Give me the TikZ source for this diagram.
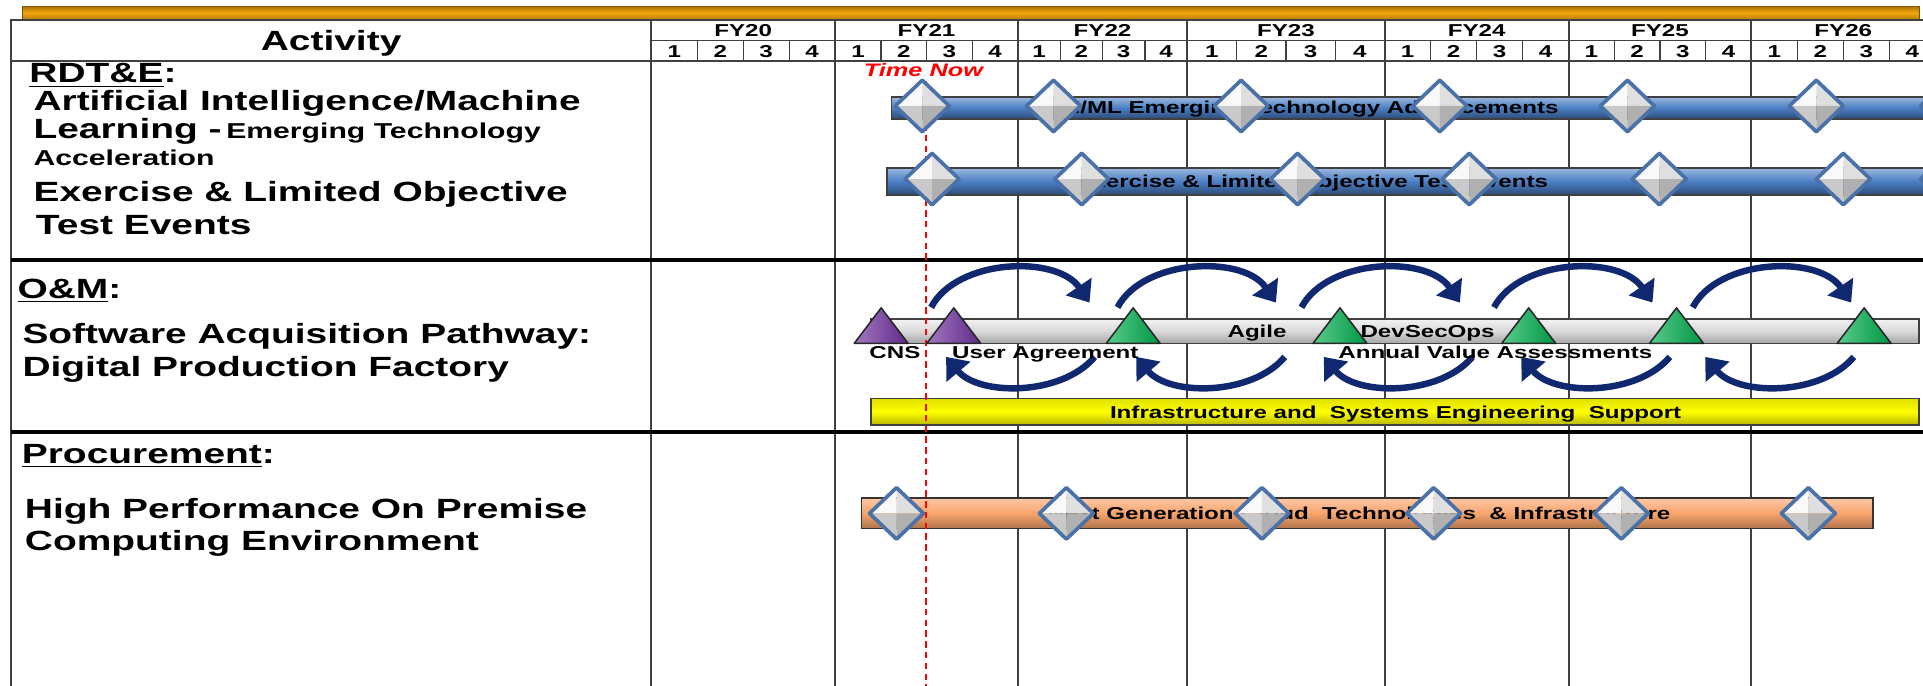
\documentclass[tikz,border=0pt]{standalone}
\usepackage{fontspec}
\setmainfont{Liberation Sans}[FakeStretch=1.4]
\usetikzlibrary{arrows.meta}

\definecolor{gridgray}{HTML}{404040}
\definecolor{gold}{HTML}{F2A60C}
\definecolor{barblue}{HTML}{4A7EC4}
\definecolor{gemblue}{HTML}{4A72A8}
\definecolor{loopnavy}{HTML}{0F2870}
\definecolor{trigreen}{HTML}{00B050}
\definecolor{tripurple}{HTML}{7030A0}
\definecolor{salmon}{HTML}{F8A46C}

% font sizes
\newcommand{\rowfont}{\fontsize{12.9}{15}\selectfont\bfseries}
\newcommand{\notefont}{\fontsize{10}{12}\selectfont\bfseries}
\newcommand{\gridfont}{\fontsize{8}{9.6}\selectfont\bfseries}

% silver milestone diamond
\newcommand{\gem}[2]{%
  \fill[white!95!gray] (#1,#2) -- (#1-22,#2) -- (#1,#2-21) -- cycle;
  \fill[gray!25] (#1,#2) -- (#1,#2-21) -- (#1+22,#2) -- cycle;
  \fill[gray!42] (#1,#2) -- (#1-22,#2) -- (#1,#2+21) -- cycle;
  \fill[gray!62] (#1,#2) -- (#1,#2+21) -- (#1+22,#2) -- cycle;
  \draw[gemblue, line width=1.7pt, line join=round]
    (#1-22,#2) -- (#1,#2-21) -- (#1+22,#2) -- (#1,#2+21) -- cycle;
}
% triangle milestone
\newcommand{\flag}[2]{%
  \shadedraw[left color=#2!65!white, right color=#2!85!black, draw=black!85,
    line width=0.7pt, line join=round]
    (#1,251) -- (#1+22,280) -- (#1-22,280) -- cycle;
}

\begin{document}
\begin{tikzpicture}[x=0.02cm, y=-0.02cm,
  gridline/.style={gridgray, line width=0.9pt},
  sectionline/.style={black, line width=1.9pt},
  bluebar/.style={draw=black!75, line width=0.8pt, top color=barblue!55!white,
    bottom color=barblue!60!black, middle color=barblue},
  silverbar/.style={draw=black!75, line width=0.8pt, top color=white!90!gray,
    bottom color=gray!70, middle color=gray!30},
  yellowbar/.style={draw=black!75, line width=0.8pt, top color=yellow!88!black,
    bottom color=yellow!72!black, middle color=yellow},
  salmonbar/.style={draw=black!80, line width=0.8pt, top color=salmon!60!white,
    bottom color=salmon!70!black, middle color=salmon},
  looparrow/.style={loopnavy, line width=3pt, -{Triangle[length=9pt,width=14pt]}},
  bartext/.style={font=\gridfont, anchor=base, inner sep=0pt},
  rowtext/.style={font=\rowfont, anchor=base west, inner sep=0pt},
]
\useasboundingbox (0,0) rectangle (1568,559);
\clip (0,0) rectangle (1568,559);

% Title bar
\shadedraw[top color=gold!70!black, bottom color=gold!75!black, middle color=gold,
  draw=gold!50!black, line width=0.5pt] (18,5) rectangle (1565,16);

% Frame and grid
\draw[gridline] (9,559) -- (9,16.5) -- (1570,16.5);
\draw[gridline] (9,49.7) -- (1570,49.7);
\draw[gridline] (531,33) -- (1570,33);
\foreach \x in {531,681,830,968,1129,1279,1428}
  \draw[gridline] (\x,16.5) -- (\x,559);

% Fiscal years and quarters
\foreach \a/\b/\fy [count=\i] in {531/681/FY20, 681/830/FY21, 830/968/FY22,
    968/1129/FY23, 1129/1279/FY24, 1279/1428/FY25, 1428/1578/FY26} {
  \node[bartext] (fy\i) at ({(\a+\b)/2},29.5) {\fy};
  \foreach \k in {1,2,3}
    \draw[gridline, line width=0.6pt] ({\a+\k*(\b-\a)/4},33) -- ({\a+\k*(\b-\a)/4},49.7);
  \foreach \k in {1,...,4}
    \node[bartext] (q\i-\k) at ({\a+(\k-0.5)*(\b-\a)/4},46.5) {\k};
}

% Sections
\draw[sectionline] (9,212) -- (1570,212);
\draw[sectionline] (9,352) -- (1570,352);

% Activity column
\node[rowtext, anchor=base] (activity) at (270,41) {Activity};
\node[rowtext] (rdte) at (23.7,67.4) {\underline{RDT\&E}:};
\node[rowtext] (aiml) at (27,89.7) {Artificial Intelligence/Machine};
\node[rowtext] (aiml2) at (27,112.8) {Learning -\,{\notefont Emerging Technology}};
\node[rowtext, font=\notefont] (aiml3) at (27,135) {Acceleration};
\node[rowtext] (exer) at (27,164.4) {Exercise \& Limited Objective};
\node[rowtext] (exer2) at (29,191.6) {Test Events};
\node[rowtext] (om) at (14,243.3) {\underline{O\&M}:};
\node[rowtext] (sap) at (18,280) {Software Acquisition Pathway:};
\node[rowtext] (sap2) at (18,306.6) {Digital Production Factory};
\node[rowtext] (proc) at (17.5,377.8) {\underline{Procurement}:};
\node[rowtext] (hpc) at (20,422.6) {High Performance On Premise};
\node[rowtext] (hpc2) at (20,449) {Computing Environment};

% Bars
\shadedraw[bluebar] (727,79) rectangle (1580,97);
\node[bartext] (aimlbar) at (1066,92.8) {AI/ML Emerging Technology Advancements};
\shadedraw[bluebar] (723,137) rectangle (1580,159);
\node[bartext] (exerbar) at (1070,152.5) {Exercise \& Limited Objective Test Events};
\shadedraw[silverbar] (710,260) rectangle (1565,280);
\node[bartext] (agile) at (1025,275) {Agile};
\node[bartext, anchor=base west] (devsecops) at (1109,275) {DevSecOps};
\shadedraw[yellowbar] (710,325) rectangle (1565,346.5);
\node[bartext] (infra) at (1138,341) {Infrastructure and\ \ Systems Engineering\ \ Support};
\shadedraw[salmonbar] (702.5,406) rectangle (1527,431);
\node[bartext] (cloud) at (1108,423.5) {Next Generation Cloud\ \ Technologies\ \ \& Infrastructure};

% Time now
\node[bartext, red, font=\fontsize{8.4}{10}\selectfont\bfseries\itshape] (timenow) at (753,62.5) {Time Now};
\draw[red, line width=0.8pt, dash pattern=on 3pt off 2pt] (755,66) -- (755,559);

% Milestones
\foreach \x in {752,859,1012,1174,1327,1481,1588} {\gem{\x}{86.4}}
\foreach \x in {760,882,1058,1198,1353,1503,1588} {\gem{\x}{146}}
\foreach \x in {731,869.5,1029,1169,1322,1474.5} {\gem{\x}{418.6}}
\flag{718.5}{tripurple}
\flag{777.7}{tripurple}
\foreach \x in {924,1092.6,1246.5,1367,1520} {\flag{\x}{trigreen}}

% Agile loops
\foreach \c in {825,977,1127,1284,1446}
  \draw[looparrow] (\c-65.8,250.6) .. controls (\c-44.5,210.4) and (\c+37,207.9) .. (\c+63.4,246.7);
\foreach \c in {832,987,1140,1301,1451}
  \draw[looparrow] (\c+60.6,291) .. controls (\c+33.7,323) and (\c-33.7,323) .. (\c-60.6,291);

% Milestone labels
\node[bartext, anchor=base west] (cns) at (708.6,292) {CNS};
\node[bartext, anchor=base west] (user) at (776,292) {User Agreement};
\node[bartext, anchor=base west] (annual) at (1091,292) {Annual Value Assessments};
\end{tikzpicture}
\end{document}
